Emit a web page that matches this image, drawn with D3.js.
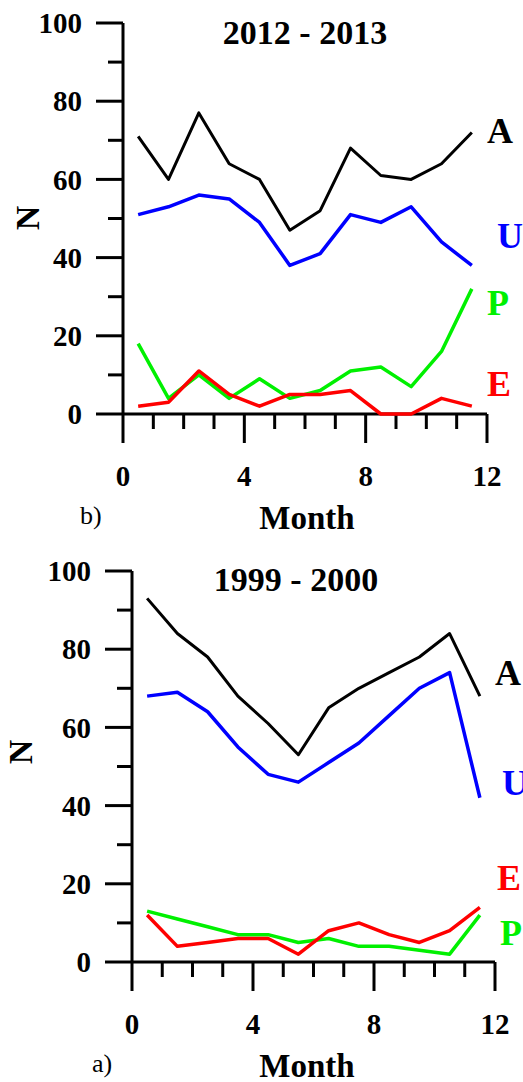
<!DOCTYPE html>
<html>
<head>
<meta charset="utf-8">
<script src="https://cdn.jsdelivr.net/npm/d3@7"></script>
<style>
  html, body { margin: 0; padding: 0; background: #fff; }
  svg { display: block; }
  text { font-family: "Liberation Serif", "Times New Roman", serif; }
</style>
</head>
<body>
<div class="viz"></div>
<script>
// months (bin centres)
const months = [0.5, 1.5, 2.5, 3.5, 4.5, 5.5, 6.5, 7.5, 8.5, 9.5, 10.5, 11.5];

// 2012 - 2013 (panel b)
const A_2012 = [71, 60, 77, 64, 60, 47, 52, 68, 61, 60, 64, 72];
const U_2012 = [51, 53, 56, 55, 49, 38, 41, 51, 49, 53, 44, 38];
const P_2012 = [18, 4, 10, 4, 9, 4, 6, 11, 12, 7, 16, 32];
const E_2012 = [2, 3, 11, 5, 2, 5, 5, 6, 0, 0, 4, 2];

// 1999 - 2000 (panel a)
const A_1999 = [93, 84, 78, 68, 61, 53, 65, 70, 74, 78, 84, 68];
const U_1999 = [68, 69, 64, 55, 48, 46, 51, 56, 63, 70, 74, 42];
const P_1999 = [13, 11, 9, 7, 7, 5, 6, 4, 4, 3, 2, 12];
const E_1999 = [12, 4, 5, 6, 6, 2, 8, 10, 7, 5, 8, 14];

const yMajor = [0, 20, 40, 60, 80, 100];
const yMinor = [10, 30, 50, 70, 90];
const xMajor = [0, 4, 8, 12];
const xMinor = [1, 2, 3, 5, 6, 7, 9, 10, 11];

const seriesNames = ["A", "U", "P", "E"];
const colors = { A: "#000000", U: "#0000ff", P: "#00f000", E: "#ff0000" };
const widths = { A: 3, U: 3.5, P: 3.5, E: 3.5 };

const W = 523, H = 1082;

const svg = d3.select(".viz")
  .append("svg")
  .attr("width", W)
  .attr("height", H)
  .attr("viewBox", `0 0 ${W} ${H}`);

function drawPanel(cfg) {
  const x = d3.scaleLinear().domain([0, 12]).range([cfg.x0, cfg.x1]);
  const y = d3.scaleLinear().domain([0, 100]).range([cfg.y0, cfg.y1]);
  const g = svg.append("g");

  // axes
  g.append("line")
    .attr("x1", x(0)).attr("x2", x(0))
    .attr("y1", y(100)).attr("y2", y(0))
    .attr("stroke", "#000").attr("stroke-width", 3);
  g.append("line")
    .attr("x1", x(0)).attr("x2", x(12))
    .attr("y1", y(0)).attr("y2", y(0))
    .attr("stroke", "#000").attr("stroke-width", 3);

  // y ticks
  g.selectAll(".ymaj").data(yMajor).enter().append("line")
    .attr("x1", x(0) - 27).attr("x2", x(0))
    .attr("y1", d => y(d)).attr("y2", d => y(d))
    .attr("stroke", "#000").attr("stroke-width", 3);
  g.selectAll(".ymin").data(yMinor).enter().append("line")
    .attr("x1", x(0) - 15).attr("x2", x(0))
    .attr("y1", d => y(d)).attr("y2", d => y(d))
    .attr("stroke", "#000").attr("stroke-width", 3);
  g.selectAll(".ylab").data(yMajor).enter().append("text")
    .attr("x", x(0) - 41)
    .attr("y", d => y(d))
    .attr("dy", "0.35em")
    .attr("text-anchor", "end")
    .attr("font-weight", "bold")
    .attr("font-size", 29)
    .text(d => d);

  // x ticks
  g.selectAll(".xmaj").data(xMajor).enter().append("line")
    .attr("x1", d => x(d)).attr("x2", d => x(d))
    .attr("y1", y(0)).attr("y2", y(0) + 29)
    .attr("stroke", "#000").attr("stroke-width", 3);
  g.selectAll(".xmin").data(xMinor).enter().append("line")
    .attr("x1", d => x(d)).attr("x2", d => x(d))
    .attr("y1", y(0)).attr("y2", y(0) + 15)
    .attr("stroke", "#000").attr("stroke-width", 3);
  g.selectAll(".xlab").data(xMajor).enter().append("text")
    .attr("x", d => x(d))
    .attr("y", y(0) + 62)
    .attr("dy", "0.35em")
    .attr("text-anchor", "middle")
    .attr("font-weight", "bold")
    .attr("font-size", 29)
    .text(d => d);

  // lines
  const line = d3.line()
    .x((d, i) => x(months[i]))
    .y(d => y(d));
  seriesNames.forEach(name => {
    g.append("path")
      .datum(cfg.data[name])
      .attr("d", line)
      .attr("fill", "none")
      .attr("stroke", colors[name])
      .attr("stroke-width", widths[name])
      .attr("stroke-linejoin", "round");
    const lp = cfg.labels[name];
    g.append("text")
      .attr("x", lp[0])
      .attr("y", lp[1])
      .attr("dy", "0.35em")
      .attr("font-weight", "bold")
      .attr("font-size", 36)
      .attr("fill", colors[name])
      .text(name);
  });

  // title
  g.append("text")
    .attr("x", cfg.title[0]).attr("y", cfg.title[1])
    .attr("dy", "0.35em")
    .attr("text-anchor", "middle")
    .attr("font-weight", "bold")
    .attr("font-size", 34)
    .text(cfg.titleText);

  // axis titles
  g.append("text")
    .attr("x", 307).attr("y", cfg.month)
    .attr("dy", "0.35em")
    .attr("text-anchor", "middle")
    .attr("font-weight", "bold")
    .attr("font-size", 33)
    .text("Month");
  g.append("text")
    .attr("transform", `translate(${cfg.n[0]},${cfg.n[1]}) rotate(-90)`)
    .attr("dy", "0.35em")
    .attr("text-anchor", "middle")
    .attr("font-weight", "bold")
    .attr("font-size", 34)
    .text("N");

  // panel letter
  g.append("text")
    .attr("x", cfg.letter[0]).attr("y", cfg.letter[1])
    .attr("dy", "0.35em")
    .attr("font-size", 26)
    .text(cfg.letterText);
}

drawPanel({
  x0: 123, x1: 487, y0: 414, y1: 23,
  data: { A: A_2012, U: U_2012, P: P_2012, E: E_2012 },
  labels: { A: [487, 130], U: [497, 235], P: [487, 302], E: [487, 383] },
  title: [305, 32], titleText: "2012 - 2013",
  month: 517, n: [27, 218],
  letter: [80, 515], letterText: "b)"
});

drawPanel({
  x0: 132, x1: 495, y0: 962, y1: 571,
  data: { A: A_1999, U: U_1999, P: P_1999, E: E_1999 },
  labels: { A: [495, 672], U: [502, 782], E: [497, 877], P: [500, 932] },
  title: [296, 579], titleText: "1999 - 2000",
  month: 1065, n: [20, 752],
  letter: [92, 1063], letterText: "a)"
});
</script>
</body>
</html>
